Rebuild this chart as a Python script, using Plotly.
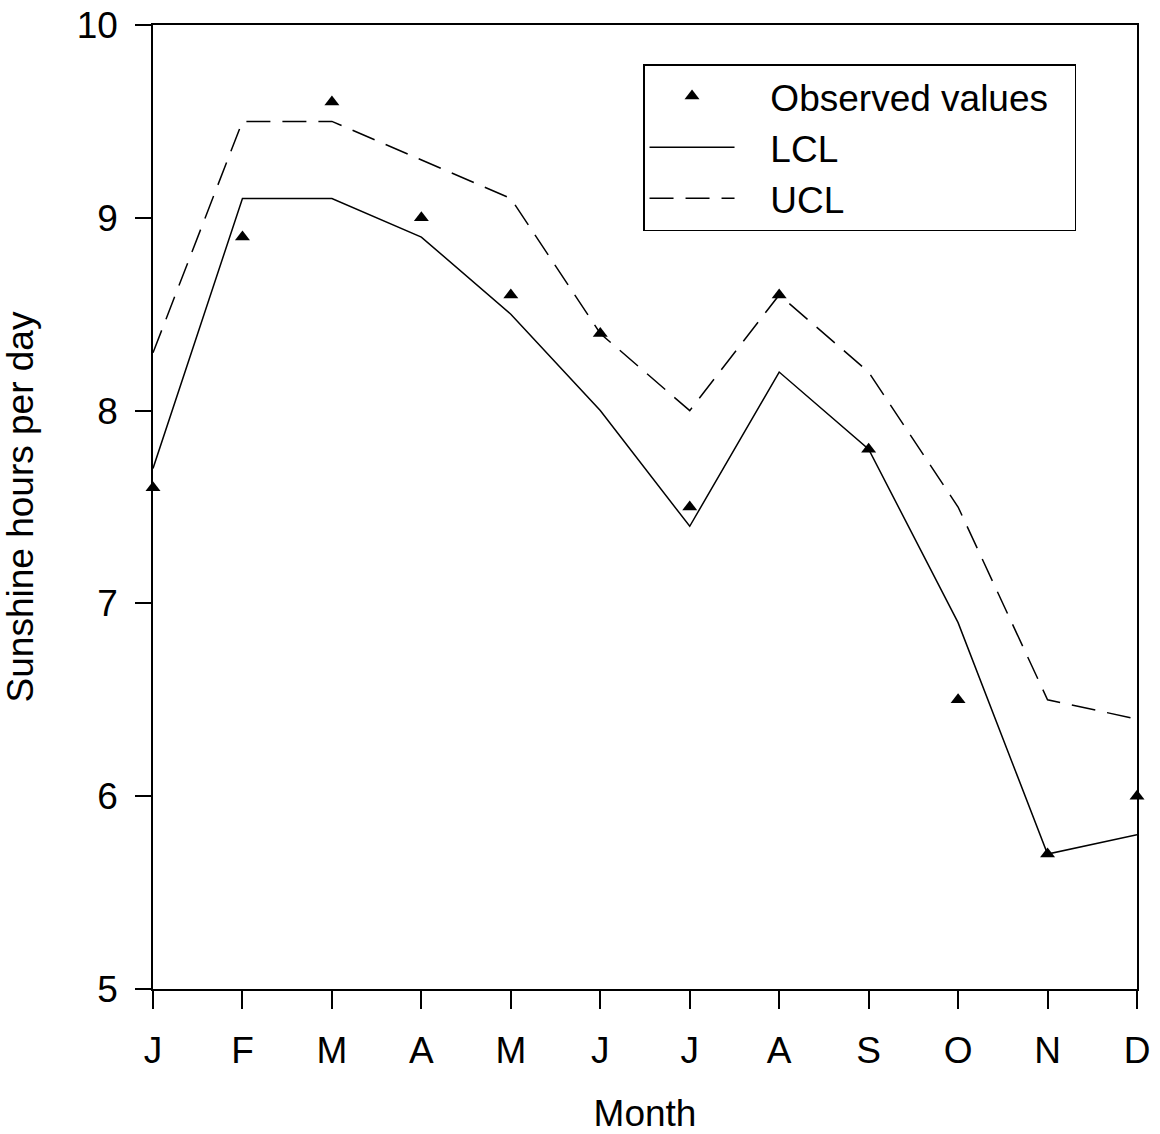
import plotly.graph_objects as go

months = ["J", "F", "M", "A", "M", "J", "J", "A", "S", "O", "N", "D"]
observed = [7.6, 8.9, 9.6, 9.0, 8.6, 8.4, 7.5, 8.6, 7.8, 6.5, 5.7, 6.0]
lcl = [7.7, 9.1, 9.1, 8.9, 8.5, 8.0, 7.4, 8.2, 7.8, 6.9, 5.7, 5.8]
ucl = [8.3, 9.5, 9.5, 9.3, 9.1, 8.4, 8.0, 8.6, 8.2, 7.5, 6.5, 6.4]
y_ticks = [5, 6, 7, 8, 9, 10]

x = list(range(len(months)))
font_family = "Liberation Sans, Arial, sans-serif"
gap = "\u00a0\u00a0\u00a0"

fig = go.Figure()
fig.add_trace(go.Scatter(
    x=x, y=observed, mode="markers", name=gap + "Observed values\u00a0\u00a0",
    marker=dict(symbol="triangle-up", size=13, color="black"),
    cliponaxis=False,
))
fig.add_trace(go.Scatter(
    x=x, y=lcl, mode="lines", name=gap + "LCL",
    line=dict(color="black", width=1.5),
    cliponaxis=False,
))
fig.add_trace(go.Scatter(
    x=x, y=ucl, mode="lines", name=gap + "UCL",
    line=dict(color="black", width=1.5, dash="24px,12px"),
    cliponaxis=False,
))

fig.update_layout(
    width=1160, height=1134,
    margin=dict(l=153, r=23, t=25, b=145, autoexpand=False),
    paper_bgcolor="white", plot_bgcolor="white",
    font=dict(family=font_family, size=37, color="black"),
    showlegend=True,
    legend=dict(
        x=0.498, y=0.9595, xanchor="left", yanchor="top",
        bordercolor="black", borderwidth=1.5,
        bgcolor="white",
        font=dict(size=37),
        itemwidth=85,
        tracegroupgap=0,
    ),
    xaxis=dict(
        range=[0, 11], automargin=False,
        tickmode="array", tickvals=x, ticktext=months,
        ticks="outside", ticklen=18, tickwidth=1.5, tickcolor="black",
        ticklabelstandoff=10, ticklabeloverflow="allow",
        showline=True, linecolor="black", linewidth=1.5, mirror=True,
        showgrid=False, zeroline=False,
        title=dict(text="Month", font=dict(size=37), standoff=30),
        tickfont=dict(size=37),
    ),
    yaxis=dict(
        range=[5, 10], automargin=False,
        tickmode="array", tickvals=y_ticks, ticktext=[str(v) for v in y_ticks],
        ticks="outside", ticklen=16, tickwidth=1.5, tickcolor="black",
        ticklabelstandoff=10, ticklabeloverflow="allow",
        showline=True, linecolor="black", linewidth=1.5, mirror=True,
        showgrid=False, zeroline=False,
        title=dict(text="Sunshine hours per day", font=dict(size=37), standoff=47),
        tickfont=dict(size=37),
    ),
)

fig.write_html(
    "out.html",
    config={"displayModeBar": False},
    post_script="document.body.style.margin='0';document.body.style.overflow='hidden';",
)
